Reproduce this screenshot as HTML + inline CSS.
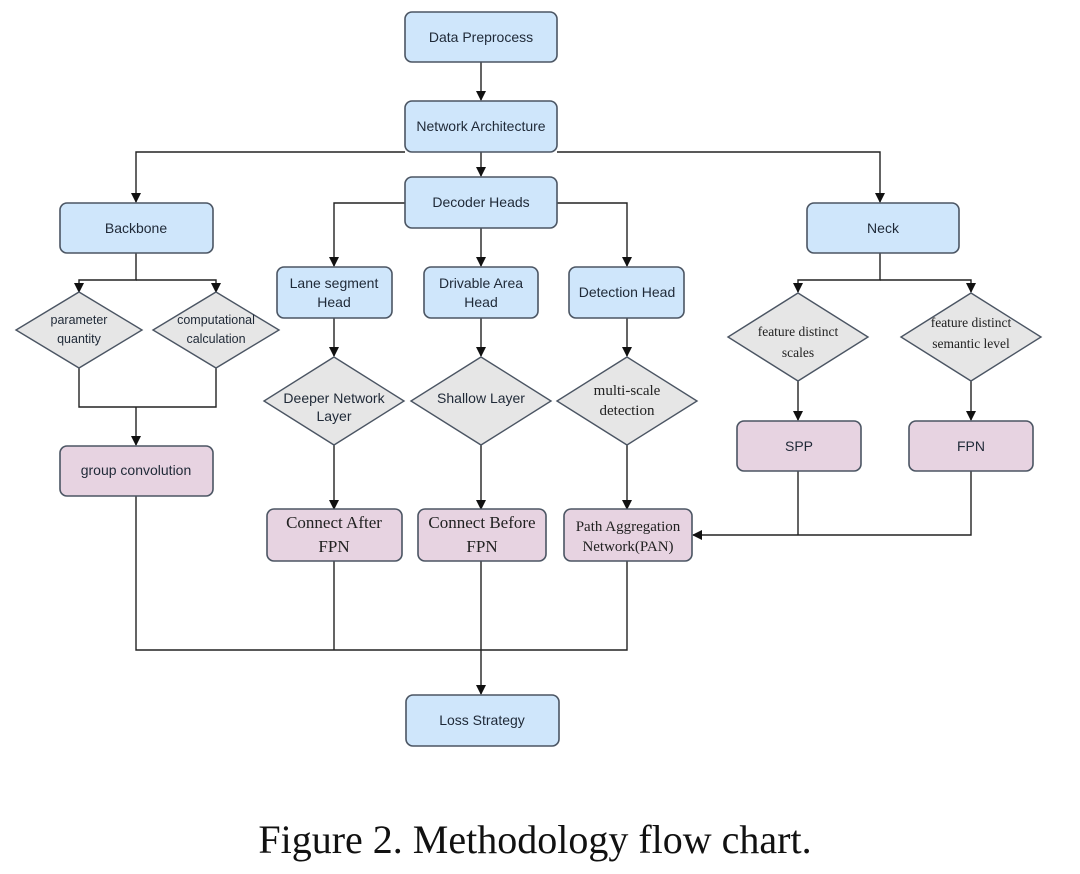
<!DOCTYPE html>
<html><head><meta charset="utf-8"><style>
html,body{margin:0;padding:0;background:#fff;}
svg{display:block;}
.b{fill:#cfe6fb;stroke:#4b5563;stroke-width:1.6;}
.p{fill:#e7d3e1;stroke:#4b5563;stroke-width:1.6;}
.d{fill:#e6e6e6;stroke:#4b5563;stroke-width:1.4;}
.l{stroke:#222;stroke-width:1.4;fill:none;}
text{font-family:"Liberation Sans",sans-serif;font-size:14px;fill:#1f2937;text-anchor:middle;}
.s{font-family:"Liberation Serif",serif;font-size:15px;fill:#222;}
</style></head><body>
<svg width="1080" height="874" viewBox="0 0 1080 874">
<defs><marker id="a" markerWidth="10" markerHeight="10" refX="9" refY="5" orient="auto" markerUnits="userSpaceOnUse"><path d="M0,0 L10,5 L0,10 z" fill="#111"/></marker></defs>
<!-- connectors -->
<g class="l">
<path d="M481,62 V100" marker-end="url(#a)"/>
<path d="M481,152 V176" marker-end="url(#a)"/>
<path d="M405,152 H136 V202" marker-end="url(#a)"/>
<path d="M557,152 H880 V202" marker-end="url(#a)"/>
<path d="M405,203 H334 V266" marker-end="url(#a)"/>
<path d="M557,203 H627 V266" marker-end="url(#a)"/>
<path d="M481,228 V266" marker-end="url(#a)"/>
<path d="M136,253 V280 H79 V292" marker-end="url(#a)"/>
<path d="M136,280 H216 V292" marker-end="url(#a)"/>
<path d="M79,368 V407 H216 V368"/>
<path d="M136,407 V445" marker-end="url(#a)"/>
<path d="M334,318 V356" marker-end="url(#a)"/>
<path d="M481,318 V356" marker-end="url(#a)"/>
<path d="M627,318 V356" marker-end="url(#a)"/>
<path d="M334,445 V509" marker-end="url(#a)"/>
<path d="M481,445 V509" marker-end="url(#a)"/>
<path d="M627,445 V509" marker-end="url(#a)"/>
<path d="M880,253 V280 H798 V292" marker-end="url(#a)"/>
<path d="M880,280 H971 V292" marker-end="url(#a)"/>
<path d="M798,381 V420" marker-end="url(#a)"/>
<path d="M971,381 V420" marker-end="url(#a)"/>
<path d="M798,471 V535"/>
<path d="M971,471 V535 H693" marker-end="url(#a)"/>
<path d="M136,496 V650 H627 V561"/>
<path d="M334,561 V650"/>
<path d="M481,561 V694" marker-end="url(#a)"/>
</g>
<!-- boxes -->
<rect class="b" x="405" y="12" width="152" height="50" rx="7"/><text x="481" y="42">Data Preprocess</text>
<rect class="b" x="405" y="101" width="152" height="51" rx="7"/><text x="481" y="131">Network Architecture</text>
<rect class="b" x="405" y="177" width="152" height="51" rx="7"/><text x="481" y="207">Decoder Heads</text>
<rect class="b" x="60" y="203" width="153" height="50" rx="7"/><text x="136" y="233">Backbone</text>
<rect class="b" x="807" y="203" width="152" height="50" rx="7"/><text x="883" y="233">Neck</text>
<rect class="b" x="277" y="267" width="115" height="51" rx="7"/><text x="334" y="288">Lane segment</text><text x="334" y="307">Head</text>
<rect class="b" x="424" y="267" width="114" height="51" rx="7"/><text x="481" y="288">Drivable Area</text><text x="481" y="307">Head</text>
<rect class="b" x="569" y="267" width="115" height="51" rx="7"/><text x="627" y="297">Detection Head</text>
<!-- diamonds -->
<polygon class="d" points="79,292 142,330 79,368 16,330"/><text x="79" y="324" style="font-size:12.5px">parameter</text><text x="79" y="343" style="font-size:12.5px">quantity</text>
<polygon class="d" points="216,292 279,330 216,368 153,330"/><text x="216" y="324" style="font-size:12.5px">computational</text><text x="216" y="343" style="font-size:12.5px">calculation</text>
<polygon class="d" points="334,357 404,401 334,445 264,401"/><text x="334" y="403">Deeper Network</text><text x="334" y="421">Layer</text>
<polygon class="d" points="481,357 551,401 481,445 411,401"/><text x="481" y="403">Shallow Layer</text>
<polygon class="d" points="627,357 697,401 627,445 557,401"/><text class="s" x="627" y="395">multi-scale</text><text class="s" x="627" y="415">detection</text>
<polygon class="d" points="798,293 868,337 798,381 728,337"/><text class="s" x="798" y="336" style="font-size:13.5px">feature distinct</text><text class="s" x="798" y="357" style="font-size:13.5px">scales</text>
<polygon class="d" points="971,293 1041,337 971,381 901,337"/><text class="s" x="971" y="327" style="font-size:13.5px">feature distinct</text><text class="s" x="971" y="348" style="font-size:13.5px">semantic level</text>
<!-- pink boxes -->
<rect class="p" x="60" y="446" width="153" height="50" rx="7"/><text x="136" y="475">group convolution</text>
<rect class="p" x="737" y="421" width="124" height="50" rx="7"/><text x="799" y="451">SPP</text>
<rect class="p" x="909" y="421" width="124" height="50" rx="7"/><text x="971" y="451">FPN</text>
<rect class="p" x="267" y="509" width="135" height="52" rx="7"/><text class="s" x="334" y="528" style="font-size:17px">Connect After</text><text class="s" x="334" y="552" style="font-size:17px">FPN</text>
<rect class="p" x="418" y="509" width="128" height="52" rx="7"/><text class="s" x="482" y="528" style="font-size:17px">Connect Before</text><text class="s" x="482" y="552" style="font-size:17px">FPN</text>
<rect class="p" x="564" y="509" width="128" height="52" rx="7"/><text class="s" x="628" y="531">Path Aggregation</text><text class="s" x="628" y="551">Network(PAN)</text>
<rect class="b" x="406" y="695" width="153" height="51" rx="7"/><text x="482" y="725">Loss Strategy</text>
<text x="535" y="853" style="font-family:'Liberation Serif',serif;font-size:40px;fill:#111">Figure 2. Methodology flow chart.</text>
</svg>
</body></html>
